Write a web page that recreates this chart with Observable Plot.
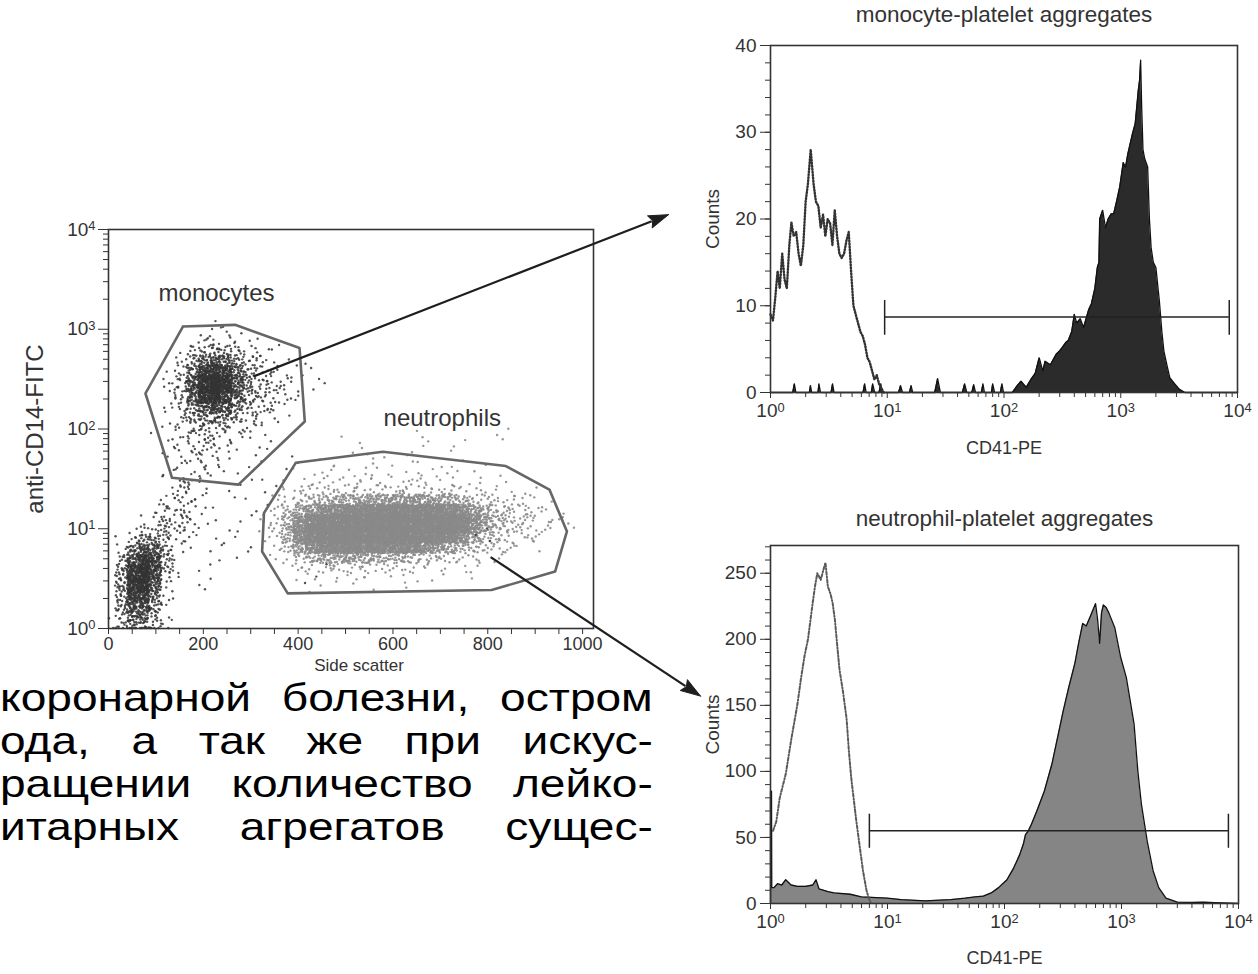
<!DOCTYPE html>
<html lang="ru">
<head>
<meta charset="utf-8">
<title>Leukocyte-platelet aggregates</title>
<script src="https://cdn.jsdelivr.net/npm/d3@7"></script>
<script src="https://cdn.jsdelivr.net/npm/@observablehq/plot@0.6"></script>
<style>
  html, body { margin: 0; padding: 0; background: #fff; }
  #page { position: relative; width: 1258px; height: 974px; overflow: hidden; background: #fff; }
  .panel { position: absolute; }
  .panel svg { display: block; max-width: none; }
  .para { position: absolute; left: 0; top: 676px; width: 660px; height: 180px;
          font-family: "Liberation Sans", Arial, sans-serif; font-size: 38.4px; line-height: 43px; color: #000; }
  .para .ln { position: absolute; left: 0; width: 544px; height: 43px; text-align: justify; text-align-last: justify;
              transform: scaleX(1.2); transform-origin: 0 0; }
</style>
</head>
<body>
<div id="page">
  <div class="panel" id="scatter" style="left:0;top:190px;width:620px;height:520px"></div>
  <div class="panel" id="monoHist" style="left:640px;top:0;width:618px;height:470px"></div>
  <div class="panel" id="neutHist" style="left:640px;top:490px;width:618px;height:484px"></div>
  <div class="para">
    <div class="ln" style="top:0">коронарной болезни, остром</div>
    <div class="ln" style="top:43px">ода, а так же при искус-</div>
    <div class="ln" style="top:86px">ращении количество лейко-</div>
    <div class="ln" style="top:129px">итарных агрегатов сущес-</div>
  </div>
  <div class="panel" id="arrows" style="left:0;top:0;width:1258px;height:974px;pointer-events:none"></div>
</div>
<script>
// ---------- axis ticks ----------
const sideScatterLabels = [0, 200, 400, 600, 800, 1000];
const decadeTicks = [1, 10, 100, 1000, 10000];
const decadeExponents = ["0", "1", "2", "3", "4"];

// ---------- dot plot: CD14 vs side scatter ----------
// Event density, one character per cell of 25 side-scatter channels x 0.1 decade of CD14.
// Rows run from 10^3.2 (top) down to 10^0; "." = no events, 1-9 = increasing density.
const cellChannels = 25;
const cellDecades = 0.1;
const topDecade = 3.2;
const eventsPerLevel = [0, 3, 6, 10, 17, 27, 40, 58, 82, 115];

// monocytes, lymphocyte/debris cluster and the scattered dark events
const darkEvents = [
  "........................................",
  ".........1..............................",
  "........1.1.............................",
  ".......12211.1..........................",
  "......13443211..........................",
  "......256653211.1.......................",
  ".....13688642211........................",
  ".....14799743211.1......................",
  ".....13798643221........................",
  ".....1357753221.........................",
  ".....1245542211.........................",
  ".....12333221...........................",
  "....1.222211............................",
  ".....112211..1..........................",
  ".....11121..1...........................",
  "......1111.....1........................",
  ".....1111..1............................",
  ".....121.....1..........................",
  ".....121..1.............................",
  "....1221....1...........................",
  "....222.1...............................",
  "...12321...1............................",
  "..23321...1....................1........",
  ".145321..1..............................",
  ".36741.....1............................",
  ".48841..1...............................",
  ".59831...........1......................",
  ".5972...1...............................",
  ".5862...................................",
  ".5751...................................",
  ".4641...................................",
  "14542..................................."
];

// neutrophils
const grayEvents = [
  "........................................",
  "........................................",
  "........................................",
  "........................................",
  "........................................",
  "........................................",
  "........................................",
  "........................................",
  "........................................",
  "........................................",
  "........................................",
  "........................................",
  "..........................1......1......",
  "....................1........1..........",
  ".....................1....1.............",
  "..................1...1..1...1..........",
  "................1.1.1.1.1.1.1..1........",
  "...............1.111111111111.1..1......",
  "..............11222222222222221111.1....",
  "..............12345566677776654322111...",
  ".............1246788999999999875432211..",
  ".............12589999999999999864322111.",
  ".............125899999999999986432211...",
  "..............2478999999998765432211....",
  "..............12456666555443322111......",
  "...............12223322222111.1.........",
  "................1.111.1.1..1..1.........",
  ".................1...1...1..............",
  "........................................",
  "........................................",
  "........................................",
  "........................................"
];

// gates (side scatter channel, CD14 intensity)
const monocyteGateSSC  = [157, 267, 403, 414, 274, 134, 78];
const monocyteGateCD14 = [1064, 1107, 649, 119, 27.7, 32.4, 227];
const neutrophilGateSSC  = [395, 579, 838, 930, 967, 942, 808, 378, 324, 328];
const neutrophilGateCD14 = [45.8, 59.2, 42.5, 24.7, 9.4, 3.72, 2.43, 2.25, 5.92, 14.4];

const gateLabels = ["monocytes", "neutrophils"];
const gateLabelSSC = [228, 704];
const gateLabelCD14 = [2290, 129];

// ---------- CD41-PE histograms ----------
// monocyte-platelet aggregates (filled) and isotype control (dotted)
const monoAggCD41 = [1, 1.55, 1.6, 1.65, 2.15, 2.2, 2.25, 2.55, 2.6, 2.68, 3.3, 3.4, 3.5, 6.2, 6.4, 6.6, 7.3, 7.5, 7.8,
  8.5, 8.8, 9.1, 12.5, 13, 13.5, 15.5, 16, 16.5, 25.5, 27, 28.5, 44, 46, 48, 53, 55, 57, 64, 66, 68, 78, 80, 83, 93, 96, 99,
  118, 130, 140, 155, 170, 185, 200, 215, 225, 250, 280, 300, 316, 340, 355, 380, 400, 420, 450, 480, 500, 530, 560,
  600, 630, 650, 660, 700, 740, 780, 830, 870, 920, 980, 1050, 1100, 1150, 1259, 1330, 1413, 1450, 1480, 1510, 1550,
  1600, 1650, 1700, 1760, 1820, 1900, 2000, 2140, 2250, 2340, 2500, 2630, 2900, 3160, 3550, 10000];
const monoAggCounts = [0, 0, 1, 0, 0, 0.8, 0, 0, 1, 0, 0, 1, 0, 0, 1, 0, 0, 1, 0,
  0, 1, 0, 0, 0.8, 0, 0, 0.8, 0, 0, 1.6, 0, 0, 1, 0, 0, 0.9, 0, 0, 1, 0, 0, 1, 0, 0, 1, 0,
  0, 0.8, 1.3, 0.6, 1.5, 2.2, 4, 2.5, 3.6, 3.2, 4.4, 4.8, 5.2, 5.8, 6, 7, 9, 8, 8.5, 7.5, 8.3, 9.5, 10.2,
  12, 14.4, 15, 20, 21, 19, 20, 20.6, 20.6, 22, 23.7, 26.5, 26, 27.5, 29.8, 31, 34.8, 36, 38.3, 33, 28,
  27, 26.5, 26, 20, 16.7, 15, 14.4, 10.6, 7, 4.8, 3, 1.7, 1, 0.4, 0, 0];
const monoCtrlCD41 = [1.00, 1.05, 1.10, 1.15, 1.20, 1.26, 1.32, 1.38, 1.45, 1.51, 1.58, 1.66, 1.74, 1.82, 1.91, 2.00,
  2.09, 2.21, 2.34, 2.45, 2.57, 2.69, 2.82, 2.95, 3.09, 3.24, 3.39, 3.55, 3.72, 3.89, 4.07, 4.27, 4.47, 4.68, 4.90,
  5.13, 5.37, 5.62, 5.89, 6.17, 6.46, 6.76, 7.08, 7.41, 7.76, 8.13, 8.51, 8.91, 9.33];
const monoCtrlCounts = [9, 8.3, 11, 14, 12, 16, 13, 12, 17, 19.6, 18, 18.5, 16, 14.6, 17, 22,
  24, 28, 24, 22, 21.5, 19, 20.5, 18, 20, 19.5, 17, 21, 18, 16, 15.5, 16, 17.5, 18.5, 14,
  10, 9, 8, 7, 6.5, 5.5, 4, 3.5, 2.5, 1.5, 2, 1, 0.5, 0];
const monoMarker = {from: 9.5, to: 8500, level: 8.7, low: 6.6, high: 10.6};

// neutrophil-platelet aggregates (filled) and isotype control (dash-dot)
const neutAggCD41 = [1, 1, 1.02, 1.025, 1.07, 1.15, 1.25, 1.35, 1.5, 1.7, 2.0, 2.3, 2.45, 2.6, 3.1, 3.5, 4.8, 6, 8,
  10, 13, 16, 21, 28, 35, 46, 56, 66, 77, 89, 105, 120, 135, 145, 151, 160, 170, 189, 219, 255, 296, 318, 355, 400,
  430, 466, 500, 540, 600, 625, 650, 675, 700, 740, 780, 875, 980, 1100, 1280, 1380, 1480, 1660, 1860, 2080, 2400,
  3000, 4000, 5000, 7000, 10000];
const neutAggCounts = [0, 85, 85, 12, 12, 15, 14, 18, 14, 13, 13, 14, 18, 11, 9, 8, 7, 5, 4.5,
  4, 3, 2.5, 2, 2.5, 3, 4, 5, 5.6, 8, 12, 18, 27, 37, 45, 52, 55, 60, 70, 85, 106, 133, 146, 164, 182,
  197, 212, 210, 217, 227, 215, 197, 220, 226, 224, 220, 209, 187, 171, 136, 100, 75, 47, 25, 12, 4,
  1, 0.8, 1, 0.5, 0];
const neutCtrlCD41 = [1.05, 1.12, 1.20, 1.35, 1.51, 1.70, 1.82, 1.95, 2.09, 2.29, 2.40, 2.51, 2.69, 2.82, 2.95, 3.09,
  3.24, 3.39, 3.55, 3.72, 3.89, 4.17, 4.47, 4.68, 4.90, 5.13, 5.37, 5.75, 6.17, 6.61, 6.92, 7.24];
const neutCtrlCounts = [55, 62, 80, 98, 125, 151, 170, 187, 200, 227, 240, 250, 245, 252, 258, 240,
  235, 228, 215, 195, 177, 160, 140, 115, 95, 80, 65, 45, 25, 10, 4, 0];
const neutMarker = {from: 7.0, to: 8200, level: 55, low: 41.8, high: 67.6};

// ---------- helpers ----------
const FONT = "Liberation Sans, Arial, Helvetica, sans-serif";
const INK = "#333";
const zip = (xs, ys) => xs.map((x, i) => ({x, y: ys[i]}));
const closed = (pts) => [...pts, pts[0]];
const decadeFormat = (d) => "10^" + decadeExponents[Math.round(Math.log10(d))];
const minorLogTicks = d3.range(0, 4).flatMap((k) => d3.range(2, 10).map((m) => m * 10 ** k));

// "10^k" tick labels become 10 with a raised exponent
function raiseExponents(svg) {
  d3.select(svg).selectAll("text").each(function () {
    const m = /^10\^(\d)$/.exec(this.textContent);
    if (!m) return;
    this.textContent = "10";
    d3.select(this).append("tspan").attr("dy", "-0.42em").attr("font-size", "0.68em").text(m[1]);
  });
  return svg;
}

// low-discrepancy offsets spread each cell's events over (and slightly past) the cell
function radicalInverse(i, base) {
  let f = 1, r = 0;
  while (i > 0) { f /= base; r += f * (i % base); i = Math.floor(i / base); }
  return r;
}
function eventsFromDensity(rows) {
  const out = [];
  let k = 0;
  rows.forEach((row, r) => {
    for (let c = 0; c < row.length; ++c) {
      const level = row[c] === "." ? 0 : +row[c];
      for (let j = 0; j < eventsPerLevel[level]; ++j) {
        ++k;
        const u = -0.45 + 1.9 * radicalInverse(k, 2);
        const v = -0.45 + 1.9 * radicalInverse(k, 3);
        const ssc = Math.max(1, cellChannels * (c + u));
        const dec = Math.max(0.005, topDecade - cellDecades * (r + 1 - v));
        out.push({ssc, cd14: 10 ** dec});
      }
    }
  });
  return out;
}

const baseStyle = {fontFamily: FONT, fontSize: "19px", color: INK, background: "transparent", overflow: "visible"};

// ---------- dot plot ----------
const SC = {left: 0, top: 190};
const scatter = Plot.plot({
  width: 620, height: 520,
  marginLeft: 108, marginRight: 27, marginTop: 39, marginBottom: 82,
  style: baseStyle,
  x: {domain: [0, 1023]},
  y: {type: "log", domain: [1, 10000]},
  marks: [
    Plot.dot(eventsFromDensity(grayEvents), {x: "ssc", y: "cd14", r: 1.2, fill: "#8a8a8a", fillOpacity: 0.9}),
    Plot.dot(eventsFromDensity(darkEvents), {x: "ssc", y: "cd14", r: 1.2, fill: "#343434", fillOpacity: 0.85}),
    Plot.line(closed(zip(monocyteGateSSC, monocyteGateCD14)), {x: "x", y: "y", stroke: "#666", strokeWidth: 2.6}),
    Plot.line(closed(zip(neutrophilGateSSC, neutrophilGateCD14)), {x: "x", y: "y", stroke: "#666", strokeWidth: 2.6}),
    Plot.text(gateLabels, {x: (d, i) => gateLabelSSC[i], y: (d, i) => gateLabelCD14[i], text: (d) => d,
      fontSize: 24, fill: INK}),
    Plot.frame({stroke: INK, strokeWidth: 1.6}),
    Plot.axisX({ticks: d3.range(0, 1001, 50), tickSize: 6, tickPadding: 3, fontSize: 18, label: null,
      tickFormat: (d) => sideScatterLabels.includes(d) ? String(d) : ""}),
    Plot.axisY({ticks: decadeTicks, tickSize: 10, tickPadding: 3, fontSize: 19, label: null, tickFormat: decadeFormat}),
    Plot.axisY({ticks: minorLogTicks, tickSize: 5, label: null, tickFormat: () => ""}),
    Plot.text(["Side scatter"], {frameAnchor: "bottom", lineAnchor: "middle", textAnchor: "middle", dy: 37, dx: 8,
      text: (d) => d, fontSize: 17, fill: INK}),
    Plot.text(["anti-CD14-FITC"], {frameAnchor: "left", lineAnchor: "middle", textAnchor: "middle", dx: -73, rotate: -90,
      text: (d) => d, fontSize: 24, fill: INK})
  ]
});
document.getElementById("scatter").append(raiseExponents(scatter));

// ---------- histograms ----------
function histogram({title, agg, ctrl, marker, yMax, yMajor, yMinor, fill, ctrlStroke, ctrlWidth, ctrlDash, size, margins, titleDy, xLabelDy}) {
  return Plot.plot({
    width: size[0], height: size[1],
    marginLeft: margins[0], marginRight: margins[1], marginTop: margins[2], marginBottom: margins[3],
    style: baseStyle,
    x: {type: "log", domain: [1, 10000]},
    y: {domain: [0, yMax]},
    marks: [
      Plot.areaY(agg, {x: "x", y: "y", fill, curve: "linear"}),
      Plot.lineY(agg, {x: "x", y: "y", stroke: "#111", strokeWidth: 1.3}),
      Plot.lineY(ctrl, {x: "x", y: "y", stroke: ctrlStroke, strokeWidth: ctrlWidth, strokeDasharray: ctrlDash}),
      Plot.ruleY([marker], {y: "level", x1: "from", x2: "to", stroke: "#222", strokeWidth: 1.5}),
      Plot.ruleX([marker.from, marker.to], {x: (d) => d, y1: marker.low, y2: marker.high, stroke: "#222", strokeWidth: 1.5}),
      Plot.frame({stroke: INK, strokeWidth: 1.6}),
      Plot.axisX({ticks: decadeTicks, tickSize: 6, tickPadding: 5, fontSize: 19, label: null, tickFormat: decadeFormat}),
      Plot.axisX({ticks: minorLogTicks, tickSize: 5, label: null, tickFormat: () => ""}),
      Plot.axisY({ticks: yMajor, tickSize: 10, tickPadding: 4, fontSize: 19, label: null}),
      Plot.axisY({ticks: yMinor, tickSize: 5, label: null, tickFormat: () => ""}),
      Plot.text([title], {frameAnchor: "top", lineAnchor: "middle", textAnchor: "middle", dy: titleDy,
        text: (d) => d, fontSize: 22.5, fill: INK}),
      Plot.text(["CD41-PE"], {frameAnchor: "bottom", lineAnchor: "middle", textAnchor: "middle", dy: xLabelDy,
        text: (d) => d, fontSize: 18, fill: INK}),
      Plot.text(["Counts"], {frameAnchor: "left", lineAnchor: "middle", textAnchor: "middle", dx: -58, rotate: -90,
        text: (d) => d, fontSize: 19, fill: INK})
    ]
  });
}

const MH = {left: 640, top: 0};
const monoHist = histogram({
  title: "monocyte-platelet aggregates",
  agg: zip(monoAggCD41, monoAggCounts), ctrl: zip(monoCtrlCD41, monoCtrlCounts), marker: monoMarker,
  yMax: 40, yMajor: d3.range(0, 41, 10), yMinor: d3.range(0, 41, 2),
  fill: "#2b2b2b", ctrlStroke: "#333", ctrlWidth: 2.4, ctrlDash: "1 2",
  size: [618, 470], margins: [130, 21, 45, 78], titleDy: -31, xLabelDy: 56
});
document.getElementById("monoHist").append(raiseExponents(monoHist));

const NH = {left: 640, top: 490};
const neutHist = histogram({
  title: "neutrophil-platelet aggregates",
  agg: zip(neutAggCD41, neutAggCounts), ctrl: zip(neutCtrlCD41, neutCtrlCounts), marker: neutMarker,
  yMax: 271, yMajor: d3.range(0, 251, 50), yMinor: d3.range(0, 271, 10),
  fill: "#858585", ctrlStroke: "#5a5a5a", ctrlWidth: 2, ctrlDash: "3 2 1 2",
  size: [618, 484], margins: [130, 20, 55, 71], titleDy: -27, xLabelDy: 55
});
document.getElementById("neutHist").append(raiseExponents(neutHist));

// ---------- arrows from the gates to their histograms ----------
// start: a point inside the gate (dot-plot units); end: a count level on the histogram, a gap left of its axis
const arrowLinks = [
  {fromSSC: 306, fromCD14: 337, hist: monoHist, at: MH, count: 20.5, gap: 102},
  {fromSSC: 806, fromCD14: 5.2, hist: neutHist, at: NH, count: 157, gap: 70}
];
const sx = scatter.scale("x"), sy = scatter.scale("y");
const shafts = [], heads = [];
arrowLinks.forEach((a, i) => {
  const x1 = SC.left + sx.apply(a.fromSSC), y1 = SC.top + sy.apply(a.fromCD14);
  const hx = a.hist.scale("x"), hy = a.hist.scale("y");
  const x2 = a.at.left + hx.apply(1) - a.gap, y2 = a.at.top + hy.apply(a.count);
  const len = Math.hypot(x2 - x1, y2 - y1), ux = (x2 - x1) / len, uy = (y2 - y1) / len;
  const headLen = 20, headHalf = 6.5;
  const bx = x2 - headLen * ux, by = y2 - headLen * uy;
  shafts.push({x1, y1, x2: bx + 2 * ux, y2: by + 2 * uy});
  heads.push({id: i, x: x2, y: y2}, {id: i, x: bx - headHalf * uy, y: by + headHalf * ux},
             {id: i, x: bx + 3 * ux, y: by + 3 * uy}, {id: i, x: bx + headHalf * uy, y: by - headHalf * ux},
             {id: i, x: x2, y: y2});
});
const overlay = Plot.plot({
  width: 1258, height: 974, margin: 0,
  style: {background: "transparent", overflow: "visible"},
  x: {type: "identity", axis: null},
  y: {type: "identity", axis: null},
  marks: [
    Plot.link(shafts, {x1: "x1", y1: "y1", x2: "x2", y2: "y2", stroke: "#1e1e1e", strokeWidth: 2.2}),
    Plot.line(heads, {x: "x", y: "y", z: "id", fill: "#1e1e1e", stroke: "#1e1e1e", strokeWidth: 1, curve: "linear"})
  ]
});
document.getElementById("arrows").append(overlay);
</script>
</body>
</html>
